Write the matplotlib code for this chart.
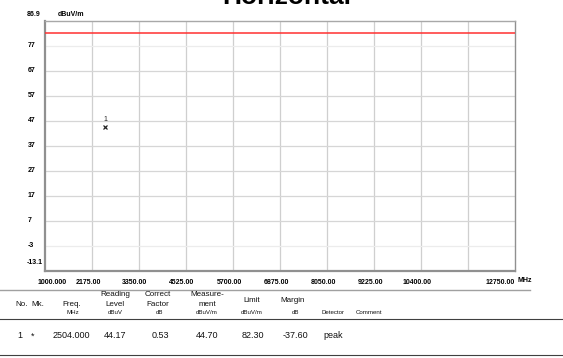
import matplotlib
matplotlib.use("Agg")
import matplotlib.pyplot as plt
import matplotlib.transforms as mtransforms
from matplotlib.font_manager import FontProperties

# Scan settings and measured result
freq_min, freq_max = 1000.0, 12750.0
level_min, level_max = -13.1, 86.9
x_tick_values = [1000, 2175, 3350, 4525, 5700, 6875, 8050, 9225, 10400, 11575, 12750]
x_tick_labels = ["1000.000", "2175.00", "3350.00", "4525.00", "5700.00", "6875.00",
                 "8050.00", "9225.00", "10400.00", "", "12750.00"]
y_tick_values = [77, 67, 57, 47, 37, 27, 17, 7, -3]
limit_level = 82.30

marker_freq = [2504.000]
marker_level = [44.70]
marker_id = ["1"]

table_header_top = ["", "", "", "Reading", "Correct", "Measure-", "", ""]
table_header_bot = ["No.", "Mk.", "Freq.", "Level", "Factor", "ment", "Limit", "Margin"]
table_units = ["", "", "MHz", "dBuV", "dB", "dBuV/m", "dBuV/m", "dB", "Detector", "Comment"]
row_no = ["1"]
row_mk = ["*"]
row_freq = ["2504.000"]
row_reading = ["44.17"]
row_factor = ["0.53"]
row_meas = ["44.70"]
row_limit = ["82.30"]
row_margin = ["-37.60"]
row_detector = ["peak"]

W, H = 563, 358
fig = plt.figure(figsize=(W / 100, H / 100), dpi=100)
fig.patch.set_facecolor("white")

def fx(x):
    return x / W

def fy(y):
    return 1 - y / H

ax_l, ax_r, ax_t, ax_b = 45, 515, 21, 271
ax = fig.add_axes([fx(ax_l), fy(ax_b), (ax_r - ax_l) / W, (ax_b - ax_t) / H])
ax.set_xlim(freq_min, freq_max)
ax.set_ylim(level_min, level_max)

tick_font = dict(family="Liberation Sans", size=5.0, weight="bold")
tick_fp = FontProperties(**tick_font)

# grid
for xv in x_tick_values[1:-1]:
    ax.axvline(xv, color="#cfcfcf", lw=0.9, zorder=1)
for yv in y_tick_values:
    c = "#ececec" if yv in (77, -3) else "#d6d6d6"
    ax.axhline(yv, color=c, lw=0.9, zorder=1)

# limit line
ax.axhline(limit_level, color="#ff3030", lw=1.1, zorder=3)

# marker
ax.plot(marker_freq, marker_level, linestyle="none", marker="x", color="#222222",
        markersize=3.5, mew=0.9, zorder=4)
for f, l, m in zip(marker_freq, marker_level, marker_id):
    ax.annotate(m, (f, l), xytext=(0, 2.5), textcoords="offset points", ha="center",
                va="bottom", fontsize=5.0, color="#222222", family="Liberation Sans")

for side in ("top", "right"):
    ax.spines[side].set_color("#a8a8a8")
    ax.spines[side].set_linewidth(1.0)
ax.spines["right"].set_color("#909090")
ax.spines["left"].set_color("#909090")
ax.spines["left"].set_linewidth(1.6)
ax.spines["bottom"].set_color("#909090")
ax.spines["bottom"].set_linewidth(1.6)

# y tick labels (left aligned)
ax.set_yticks(y_tick_values)
ax.set_yticklabels([str(v) for v in y_tick_values])
ax.tick_params(axis="y", length=0, pad=12.5)
for lab in ax.get_yticklabels():
    lab.set_horizontalalignment("left")
    lab.set_fontproperties(tick_fp)
    lab.set_transform(lab.get_transform() +
                      mtransforms.ScaledTranslation(0, 1.5 / 100, fig.dpi_scale_trans))
ytrans = mtransforms.blended_transform_factory(fig.transFigure, ax.transData)
for yv, dy in ((level_max, 6), (level_min, 8)):
    ax.text(fx(27), yv, f"{yv:.1f}",
            transform=ytrans + mtransforms.ScaledTranslation(0, dy / 100, fig.dpi_scale_trans),
            ha="left", va="center", fontproperties=tick_fp)
fig.text(fx(58), fy(15), "dBuV/m", ha="left", va="center", fontproperties=tick_fp)

# x tick labels
ax.set_xticks(x_tick_values)
ax.set_xticklabels(x_tick_labels)
ax.tick_params(axis="x", length=0, pad=6)
n = len(x_tick_labels)
for i, lab in enumerate(ax.get_xticklabels()):
    lab.set_fontproperties(tick_fp)
    if i == 0:
        lab.set_horizontalalignment("left")
        dx = -7
    elif i == n - 1:
        lab.set_horizontalalignment("right")
        dx = 0
    else:
        dx = -4
    lab.set_transform(lab.get_transform() +
                      mtransforms.ScaledTranslation(dx / 100, 0, fig.dpi_scale_trans))
fig.text(fx(517), fy(280), "MHz", ha="left", va="center", fontproperties=tick_fp)

# title
fig.text(fx(287), fy(4.5), "Horizontal", ha="center", va="baseline", fontsize=19,
         weight="bold", family="Liberation Sans")

# result table
line_ax = fig.add_axes([0, 0, 1, 1], facecolor="none")
line_ax.set_xlim(0, W)
line_ax.set_ylim(H, 0)
line_ax.axis("off")
line_ax.plot([0, 530], [289.5, 289.5], color="#a0a0a0", lw=1.0)
line_ax.plot([0, W], [319, 319], color="#404040", lw=0.8)
line_ax.plot([0, W], [354.5, 354.5], color="#404040", lw=0.8)

tf = dict(family="Liberation Sans", color="#111111")
col_x = [22, 38, 72, 115, 158, 207, 252, 293]
for x, t in zip(col_x, table_header_top):
    if t:
        fig.text(fx(x), fy(295), t, ha="center", va="center", fontsize=5.8, **tf)
for i, (x, t) in enumerate(zip(col_x, table_header_bot)):
    y = 300 if i in (6, 7) else 304
    fig.text(fx(x), fy(y), t, ha="center", va="center", fontsize=5.8, **tf)

unit_x = [22, 38, 73, 115, 160, 207, 252, 295, 333, 369]
for x, t in zip(unit_x, table_units):
    if t:
        fig.text(fx(x), fy(313), t, ha="center", va="center", fontsize=4.4, **tf)

for i in range(len(row_no)):
    y = 336
    cells = [(20, row_no[i]), (33, row_mk[i]), (71, row_freq[i]), (115, row_reading[i]),
             (160, row_factor[i]), (207, row_meas[i]), (253, row_limit[i]),
             (295, row_margin[i])]
    for x, t in cells:
        fig.text(fx(x), fy(y), t, ha="center", va="center", fontsize=6.5, **tf)
    fig.text(fx(323), fy(y), row_detector[i], ha="left", va="center", fontsize=6.5, **tf)

fig.savefig("out.png", dpi=100)
